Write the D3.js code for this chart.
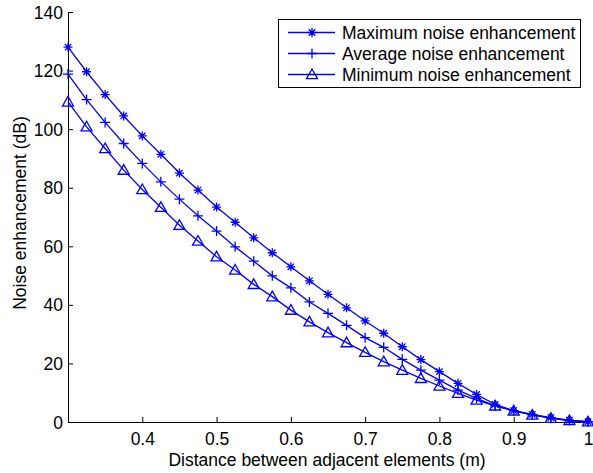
<!DOCTYPE html>
<html><head><meta charset="utf-8">
<script src="https://cdn.jsdelivr.net/npm/d3@7"></script>
<style>body{margin:0;background:#fff}svg{display:block}text{font-family:"Liberation Sans",Arial,sans-serif}</style>
</head><body>
<svg id="c" width="593" height="473"></svg>
<script>
const xValues = [0.3,0.325,0.35,0.375,0.4,0.425,0.45,0.475,0.5,0.525,0.55,0.575,0.6,0.625,0.65,0.675,0.7,0.725,0.75,0.775,0.8,0.825,0.85,0.875,0.9,0.925,0.95,0.975,1.0];
const maxNoise = [128,119.6,111.8,104.5,97.7,91.4,85,79.2,73.4,68.2,62.9,57.8,53,48.2,43.6,39,34.5,30.3,25.7,21.3,17.2,13.2,9.4,6,3.9,2.6,1.5,0.6,0.1];
const avgNoise = [118.8,110.1,102.3,95.1,88.3,82,76.1,70.4,65.2,59.8,54.9,49.9,45.8,41,37.1,33,28.8,25.5,21.4,17.7,14.3,10.9,8.1,5.5,3.9,2.4,1.3,0.5,0.05];
const minNoise = [109.3,100.8,93.4,86,79.4,73.3,67.2,61.8,56.4,51.9,47,42.8,38.2,34.2,30.5,27.1,23.8,20.6,17.7,14.9,12.3,9.8,7.5,5.5,3.8,2.4,1.3,0.5,0.1];
const seriesNames = ["Maximum noise enhancement","Average noise enhancement","Minimum noise enhancement"];
const xTicks = [0.3,0.4,0.5,0.6,0.7,0.8,0.9,1];
const yTicks = [0,20,40,60,80,100,120,140];

const FS = 17.5;
const svg = d3.select("#c");
const x = d3.scaleLinear().domain([0.3,1]).range([68,588]);
const y = d3.scaleLinear().domain([0,140]).range([422,12]);
const blue = "#0000ff";

// axes
const xa = svg.append("g").attr("transform","translate(0,422)")
  .call(d3.axisBottom(x).tickValues(xTicks).tickSize(-5).tickPadding(11).tickFormat(d => d===0.3 ? "" : (d===1 ? "1" : d3.format(".1f")(d))));
const ya = svg.append("g").attr("transform","translate(68,0)")
  .call(d3.axisLeft(y).tickValues(yTicks).tickSize(-5).tickPadding(5));
[xa,ya].forEach(g=>{
  g.select(".domain").attr("stroke","#000").attr("stroke-width",1);
  g.selectAll(".tick line").attr("stroke","#000");
  g.selectAll("text").attr("font-size",FS).attr("fill","#000").attr("font-family","Liberation Sans, Arial, sans-serif");
});
ya.selectAll("text").attr("dy","0.35em");

svg.append("text").attr("x",327).attr("y",465.5).attr("text-anchor","middle").attr("font-size",FS).text("Distance between adjacent elements (m)");
svg.append("text").attr("transform","translate(26,213) rotate(-90)").attr("text-anchor","middle").attr("font-size",FS).text("Noise enhancement (dB)");

function marker(g, type, cx, cy){
  if(type==="star"){
    const r=4.5, d=3.2;
    g.append("path").attr("d",`M${cx-r},${cy}L${cx+r},${cy}M${cx},${cy-r}L${cx},${cy+r}M${cx-d},${cy-d}L${cx+d},${cy+d}M${cx-d},${cy+d}L${cx+d},${cy-d}`)
      .attr("stroke",blue).attr("stroke-width",1.3).attr("fill","none");
  } else if(type==="plus"){
    const r=5;
    g.append("path").attr("d",`M${cx-r},${cy}L${cx+r},${cy}M${cx},${cy-r}L${cx},${cy+r}`)
      .attr("stroke",blue).attr("stroke-width",1.3).attr("fill","none");
  } else {
    const r=5.5;
    g.append("path").attr("d",`M${cx},${cy-r}L${cx+r},${cy+r*0.75}L${cx-r},${cy+r*0.75}Z`)
      .attr("stroke",blue).attr("stroke-width",1.3).attr("fill","none");
  }
}

const series = [{v:maxNoise,m:"star"},{v:avgNoise,m:"plus"},{v:minNoise,m:"tri"}];
const line = d3.line().x((d,i)=>x(xValues[i])).y(d=>y(d));
series.forEach(s=>{
  const g = svg.append("g");
  g.append("path").datum(s.v).attr("d",line).attr("fill","none").attr("stroke",blue).attr("stroke-width",1.3);
  s.v.forEach((d,i)=>marker(g,s.m,x(xValues[i]),y(d)));
});

// legend
const lg = svg.append("g");
lg.append("rect").attr("x",278.5).attr("y",19.5).attr("width",302).attr("height",68).attr("fill","#fff").attr("stroke","#000").attr("stroke-width",1);
series.forEach((s,i)=>{
  const yy = 32.5 + i*21;
  lg.append("line").attr("x1",288).attr("x2",335).attr("y1",yy).attr("y2",yy).attr("stroke",blue).attr("stroke-width",1.3);
  marker(lg,s.m,312,yy);
  lg.append("text").attr("x",342).attr("y",yy).attr("dy","0.35em").attr("font-size",FS).text(seriesNames[i]);
});
</script>
</body></html>
